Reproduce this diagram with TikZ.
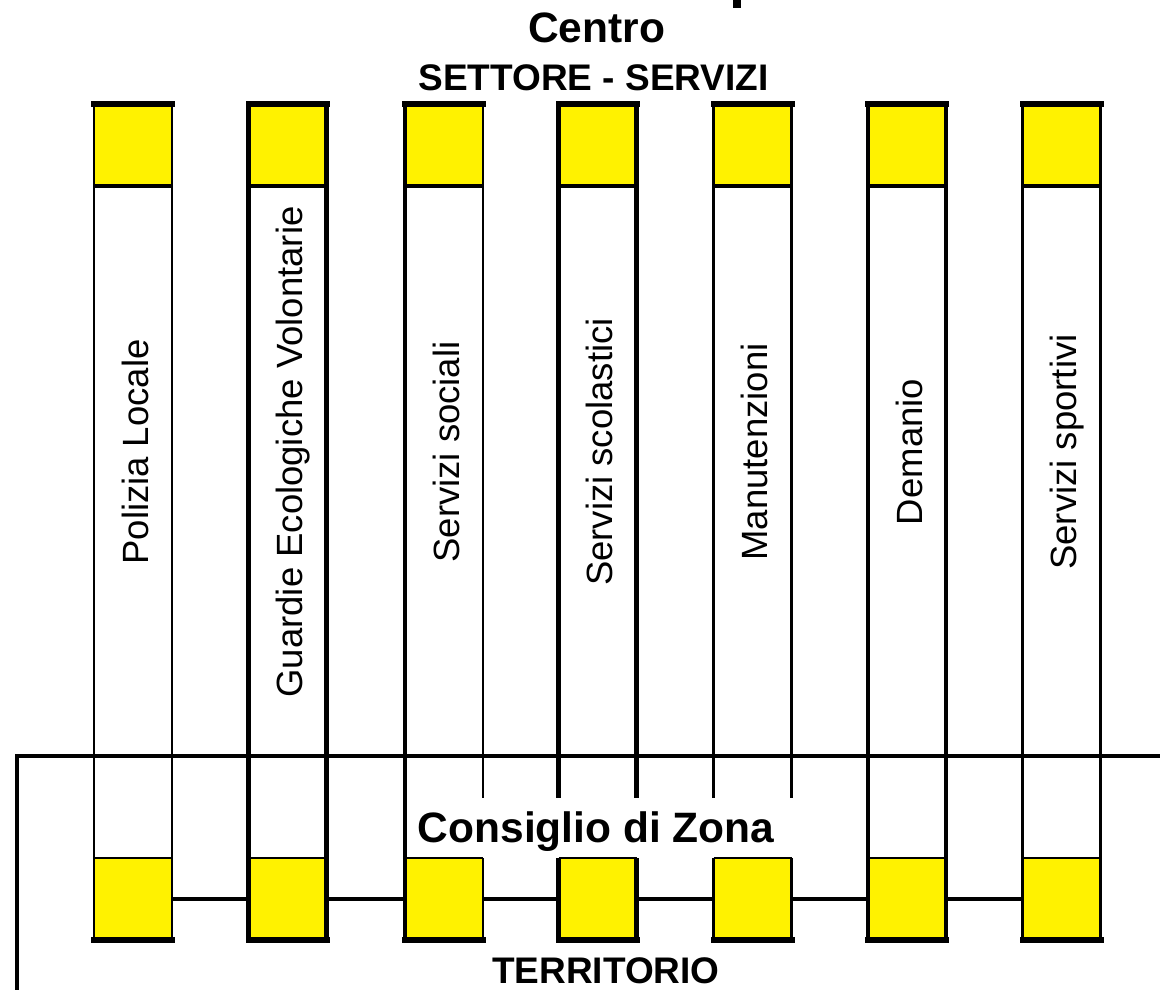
\documentclass[tikz,border=0pt]{standalone}
\usepackage{fontspec}
\setmainfont{Liberation Sans}
\begin{document}
\begin{tikzpicture}[x=1pt,y=-1pt,
  ybox/.style={rectangle,fill=yellow,minimum width=78pt,minimum height=82pt,inner sep=0pt,outer sep=0pt},
  lbl/.style={rotate=90,anchor=base,inner sep=0pt,font=\fontsize{36.5}{40}\selectfont},
  ttl/.style={anchor=base,inner sep=0pt,font=\bfseries\fontsize{42.5}{48}\selectfont},
  subttl/.style={anchor=base,inner sep=0pt,font=\bfseries\fontsize{37}{42}\selectfont},
  link/.style={line width=3.5pt},
  frameline/.style={line width=4.5pt},
  heavy/.style={line width=6pt,line cap=rect}
]
\useasboundingbox (0,0) rectangle (1160,990);

\foreach \i/\cx/\lw/\rw/\lf/\rf/\txt in {
  1/133/2.5pt/2.5pt/1/1/Polizia Locale,
  2/287.5/4.5pt/4.5pt/1/1/Guardie Ecologiche Volontarie,
  3/444/4.5pt/2.5pt/1/0/Servizi sociali,
  4/597.5/4.5pt/4.5pt/0/0/Servizi scolastici,
  5/752.5/2.5pt/2.5pt/0/0/Manutenzioni,
  6/907/4.5pt/4.5pt/1/1/Demanio,
  7/1061.5/2.5pt/2.5pt/1/1/Servizi sportivi}
{
  \node[ybox] (t\i) at (\cx,145) {};
  \node[ybox] (b\i) at (\cx,899) {};
  \node[lbl] (l\i) at (\cx+15,452) {\txt};
  % left side
  \ifnum\lf=1
    \draw[line width=\lw] (t\i.north west) -- (b\i.south west);
  \else
    \coordinate (le\i) at (\cx-39,798);
    \draw[line width=\lw] (t\i.north west) -- (le\i);
    \draw[line width=\lw] (b\i.north west) -- (b\i.south west);
  \fi
  % right side
  \ifnum\rf=1
    \draw[line width=\rw] (t\i.north east) -- (b\i.south east);
  \else
    \coordinate (re\i) at (\cx+39,798);
    \draw[line width=\rw] (t\i.north east) -- (re\i);
    \draw[line width=\rw] (b\i.north east) -- (b\i.south east);
  \fi
  % box top / bottom borders
  \draw[heavy] (t\i.north west) -- (t\i.north east);
  \draw[line width=4.5pt] (t\i.south west) -- (t\i.south east);
  \draw[line width=2.5pt] (b\i.north west) -- (b\i.north east);
  \draw[heavy] (b\i.south west) -- (b\i.south east);
}

\foreach \i/\j in {1/2,2/3,3/4,4/5,5/6,6/7}
  \draw[link] (b\i.east) -- (b\j.west);

\coordinate (fr) at (1160,756);
\coordinate (fc) at (17,756);
\coordinate (fb) at (17,990);
\draw[frameline] (fr) -- (fc) -- (fb);

\node[ttl] (centro) at (596.5,43) {Centro};
\node[subttl] (settore) at (593.5,91) {SETTORE - SERVIZI};
\node[ttl] (consiglio) at (596,842) {Consiglio di Zona};
\node[subttl] (territorio) at (606,983) {TERRITORIO};

\fill (733,0) rectangle (741,8);
\end{tikzpicture}
\end{document}
